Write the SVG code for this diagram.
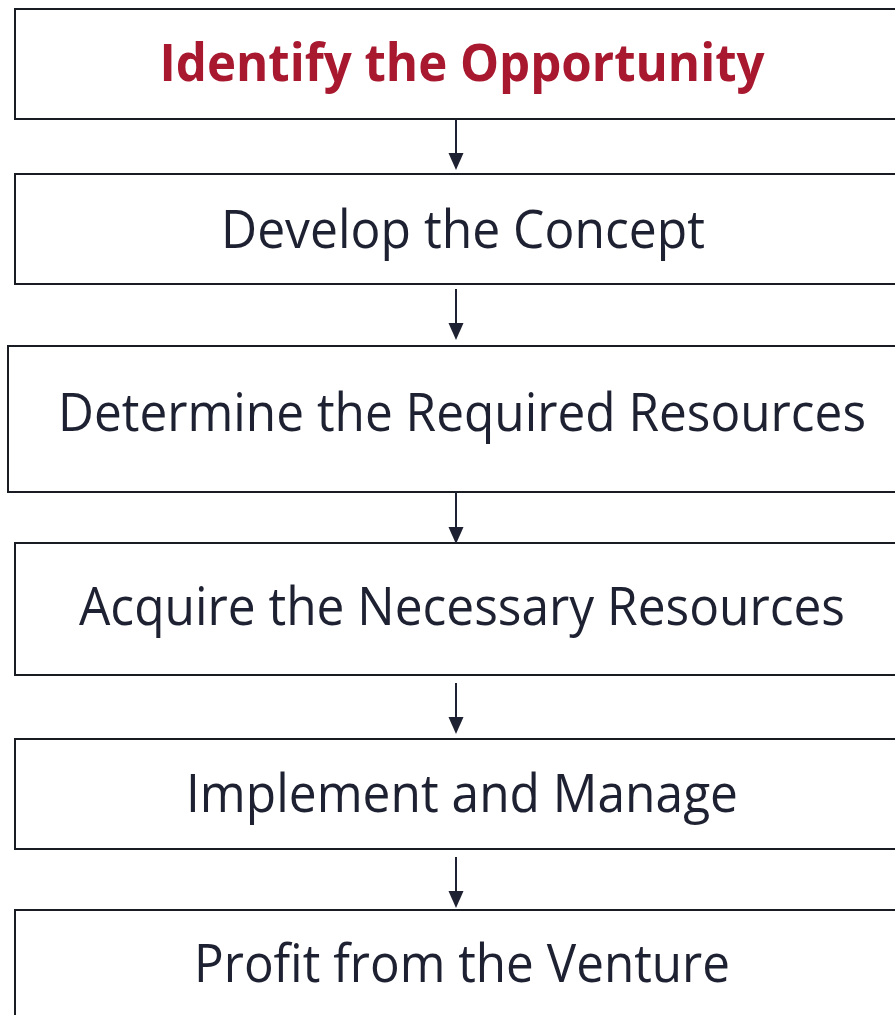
<svg xmlns="http://www.w3.org/2000/svg" width="895" height="1015" viewBox="0 0 895 1015">
<style>
.box{fill:#ffffff;stroke:#1a1c24;stroke-width:2}
.t{font-family:"Open Sans","Noto Sans","Liberation Sans",sans-serif;font-size:53px;fill:#1e2131;text-anchor:middle}
.red{fill:#a8182f;font-weight:bold;font-size:52px}
.conn line{stroke:#1e2131;stroke-width:2}
</style>
<defs>
<marker id="ah" markerUnits="userSpaceOnUse" markerWidth="16" markerHeight="17" refX="8" refY="16" orient="auto-start-reverse" viewBox="0 0 16 17">
<path d="M0,0 L16,0 L8,16 Z" fill="#1e2131" transform="rotate(-90 8 8) translate(0,0)"/>
</marker>
</defs>
<rect width="895" height="1015" fill="#ffffff"/>
<g id="n1"><rect class="box" x="15" y="9" width="895" height="110"/><text class="t red" x="462" y="81" textLength="605" lengthAdjust="spacingAndGlyphs">Identify the Opportunity</text></g>
<g id="n2"><rect class="box" x="15" y="174" width="895" height="110"/><text class="t" x="463" y="248" textLength="484" lengthAdjust="spacingAndGlyphs">Develop the Concept</text></g>
<g id="n3"><rect class="box" x="8" y="346" width="902" height="146"/><text class="t" x="462" y="431" textLength="808" lengthAdjust="spacingAndGlyphs">Determine the Required Resources</text></g>
<g id="n4"><rect class="box" x="15" y="543" width="895" height="132"/><text class="t" x="462" y="625" textLength="766" lengthAdjust="spacingAndGlyphs">Acquire the Necessary Resources</text></g>
<g id="n5"><rect class="box" x="15" y="739" width="895" height="110"/><text class="t" x="462" y="812" textLength="552" lengthAdjust="spacingAndGlyphs">Implement and Manage</text></g>
<g id="n6"><rect class="box" x="15" y="910" width="895" height="130"/><text class="t" x="462" y="982" textLength="536" lengthAdjust="spacingAndGlyphs">Profit from the Venture</text></g>
<g id="connectors" class="conn">
<line x1="456" y1="119" x2="456" y2="156"/><path d="M448.5,153 L463.5,153 L456,170 Z" fill="#1e2131"/>
<line x1="456" y1="289" x2="456" y2="326"/><path d="M448.5,323 L463.5,323 L456,340 Z" fill="#1e2131"/>
<line x1="456" y1="492" x2="456" y2="530"/><path d="M448.5,527 L463.5,527 L456,544 Z" fill="#1e2131"/>
<line x1="456" y1="683" x2="456" y2="720"/><path d="M448.5,717 L463.5,717 L456,734 Z" fill="#1e2131"/>
<line x1="456" y1="857" x2="456" y2="894"/><path d="M448.5,891 L463.5,891 L456,908 Z" fill="#1e2131"/>
</g>
</svg>
